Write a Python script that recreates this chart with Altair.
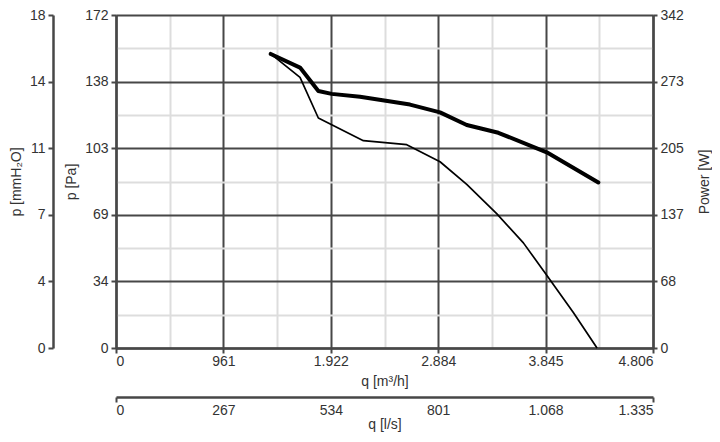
import altair as alt
import pandas as pd

# pressure curve (thin line), q in m³/h, p in Pa
q_pressure = [1385, 1647, 1811, 2214, 2602, 2900, 3139, 3407, 3646, 3855, 4093, 4305]
p_pressure = [151.9, 139.8, 118.8, 107.1, 105.0, 96.2, 84.5, 69.4, 54.3, 37.6, 18.3, 0.0]

# power curve (thick line), q in m³/h, power in W
q_power = [1385, 1647, 1811, 1930, 2184, 2631, 2900, 3139, 3422, 3855, 4317]
w_power = [302, 288, 264, 261, 258, 250, 242, 229, 221, 201, 170]

# axis ticks and labels
q_ticks = [0, 961.2, 1922.4, 2883.6, 3844.8, 4806]
q_labels = ["0", "961", "1.922", "2.884", "3.845", "4.806"]
q_minor = [480.6, 1441.8, 2403.0, 3364.2, 4325.4]

ls_ticks = [0, 267, 534, 801, 1068, 1335]
ls_labels = ["0", "267", "534", "801", "1.068", "1.335"]

pa_ticks = [0, 34.4, 68.8, 103.2, 137.6, 172]
pa_labels = ["0", "34", "69", "103", "138", "172"]
mm_labels = ["0", "4", "7", "11", "14", "18"]
p_minor = [17.2, 51.6, 86.0, 120.4, 154.8]

w_ticks = [0, 68.4, 136.8, 205.2, 273.6, 342]
w_labels = ["0", "68", "137", "205", "273", "342"]

pressure_df = pd.DataFrame({"q": q_pressure, "p": p_pressure})
power_df = pd.DataFrame({"q": q_power, "w": w_power})
ls_df = pd.DataFrame({"ls": ls_ticks})


def label_expr(labels, step):
    arr = ",".join("'%s'" % s for s in labels)
    return "[%s][round(datum.value / %s)]" % (arr, step)


DARK = "#474747"
LIGHT = "#dddddd"
TEXT = "#333333"

x_q = alt.Scale(domain=[0, 4806], nice=False, zero=False)
y_pa = alt.Scale(domain=[0, 172], nice=False)

common = dict(
    labelFont="Liberation Sans", labelFontSize=14, labelColor=TEXT,
    titleFont="Liberation Sans", titleFontSize=14, titleColor=TEXT,
    titleFontWeight="normal",
    domainColor=DARK, domainWidth=2.5, tickColor=DARK, tickWidth=2,
)
no_axis_bits = dict(labels=False, ticks=False, domain=False, title=None)

# light minor grid
minor = alt.Chart(pressure_df).mark_point(opacity=0).encode(
    x=alt.X("q:Q", scale=x_q, axis=alt.Axis(
        orient="bottom", values=q_minor, grid=True, gridColor=LIGHT,
        gridWidth=2, **no_axis_bits)),
    y=alt.Y("p:Q", scale=y_pa, axis=alt.Axis(
        orient="left", values=p_minor, grid=True, gridColor=LIGHT,
        gridWidth=2, **no_axis_bits)),
)

# pressure line with main grid, Pa and m³/h axes
pressure = alt.Chart(pressure_df).mark_line(
    color="black", strokeWidth=1.7, strokeJoin="round"
).encode(
    x=alt.X("q:Q", scale=x_q, axis=alt.Axis(
        orient="bottom", values=q_ticks, labelExpr=label_expr(q_labels, 961.2),
        grid=True, gridColor=DARK, gridWidth=2, tickSize=5, labelPadding=1,
        title="q [m³/h]", titlePadding=6, **common)),
    y=alt.Y("p:Q", scale=y_pa, axis=alt.Axis(
        orient="left", values=pa_ticks, labelExpr=label_expr(pa_labels, 34.4),
        grid=True, gridColor=DARK, gridWidth=2, tickSize=5, labelPadding=3,
        title="p [Pa]", titlePadding=6, **common)),
)

# second pressure axis in mmH2O
mm_axis = alt.Chart(pressure_df).mark_point(opacity=0).encode(
    x=alt.X("q:Q", scale=x_q, axis=None),
    y=alt.Y("p:Q", scale=y_pa, axis=alt.Axis(
        orient="left", offset=63, values=pa_ticks,
        labelExpr=label_expr(mm_labels, 34.4), grid=False, tickSize=5,
        labelPadding=3, title="p [mmH₂O]", titlePadding=6, **common)),
)

# power line on the right axis
power = alt.Chart(power_df).mark_line(
    color="black", strokeWidth=4, strokeJoin="round", strokeCap="round"
).encode(
    x=alt.X("q:Q", scale=x_q, axis=None),
    y=alt.Y("w:Q", scale=alt.Scale(domain=[0, 342], nice=False), axis=alt.Axis(
        orient="right", values=w_ticks, labelExpr=label_expr(w_labels, 68.4),
        grid=False, tickSize=4, labelPadding=3, titleAngle=270,
        title="Power [W]", titlePadding=28, **common)),
)

# flow axis in l/s below the main one
ls_axis = alt.Chart(ls_df).mark_point(opacity=0).encode(
    x=alt.X("ls:Q", scale=alt.Scale(domain=[0, 1335], nice=False), axis=alt.Axis(
        orient="bottom", offset=49, values=ls_ticks,
        labelExpr=label_expr(ls_labels, 267), grid=False, tickSize=5,
        labelPadding=1,
        tickOpacity={"condition": {"test": "datum.value == 0 || datum.value == 1335",
                                   "value": 1}, "value": 0},
        title="q [l/s]", titlePadding=0, **common)),
    y=alt.value(0),
)

chart = (
    alt.layer(minor, pressure, mm_axis, power, ls_axis)
    .resolve_scale(x="independent", y="independent")
    .resolve_axis(x="independent", y="independent")
    .properties(
        width=537, height=333,
        autosize=alt.AutoSizeParams(type="none"),
        padding={"left": 108, "top": 7, "right": 59, "bottom": 86},
    )
    .configure_view(stroke=None)
)

chart.save("out.html", embed_options={"renderer": "svg", "actions": False})
